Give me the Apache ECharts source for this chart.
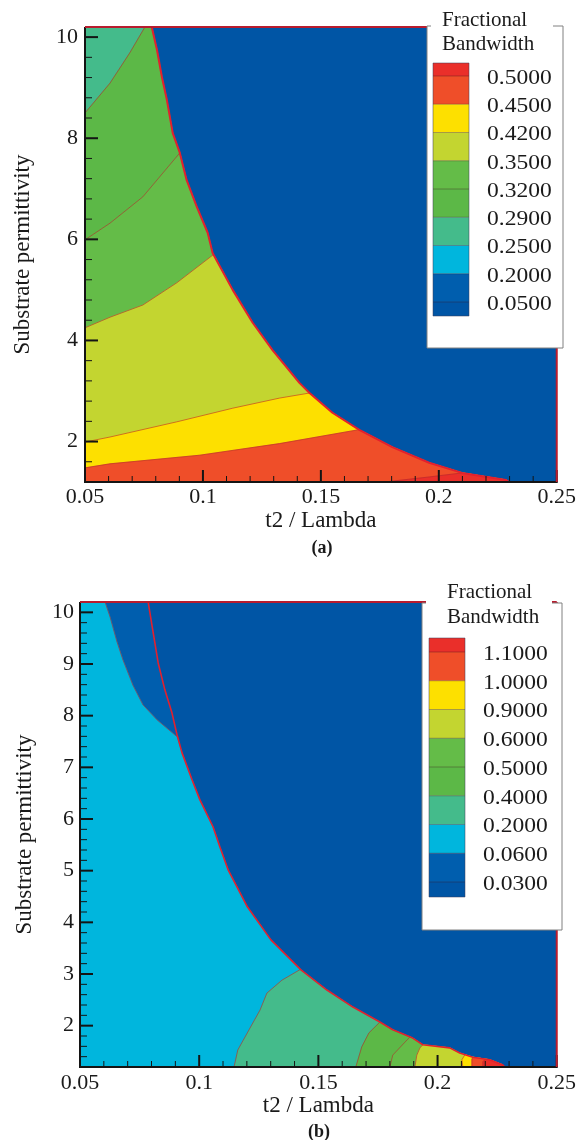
<!DOCTYPE html>
<html>
<head>
<meta charset="utf-8">
<script src="https://cdn.jsdelivr.net/npm/echarts@6/dist/echarts.min.js"></script>
<style>
  html, body { margin: 0; padding: 0; background: #fff; }
  #chart { width: 579px; height: 1140px; }
</style>
</head>
<body>
<div id="chart"></div>
<script>
// Fractional bandwidth vs. t2/Lambda and substrate permittivity, two cases (a) and (b).
const FONT = '"Liberation Serif", "Times New Roman", serif';

// axis domains, tick positions and tick labels
const tRange = [0.05, 0.25];
const epsRange = [1.2, 10.2];
const xInterval = 0.05;
const xMajorTicks = [0.05, 0.1, 0.15, 0.2, 0.25];
const xMinorTicks = [0.06, 0.07, 0.08, 0.09, 0.11, 0.12, 0.13, 0.14, 0.16, 0.17, 0.18, 0.19,
  0.21, 0.22, 0.23, 0.24];
const yLabelsA = [2, 4, 6, 8, 10];
const yMinorTicksA = [1.6, 2.4, 2.8, 3.2, 3.6, 4.4, 4.8, 5.2, 5.6, 6.4, 6.8, 7.2, 7.6, 8.4, 8.8, 9.2, 9.6];
const yLabelsB = [2, 3, 4, 5, 6, 7, 8, 9, 10];
const yMinorTicksB = [1.4, 1.6, 1.8, 2.2, 2.4, 2.6, 2.8, 3.2, 3.4, 3.6, 3.8, 4.2, 4.4, 4.6, 4.8,
  5.2, 5.4, 5.6, 5.8, 6.2, 6.4, 6.6, 6.8, 7.2, 7.4, 7.6, 7.8, 8.2, 8.4, 8.6, 8.8, 9.2, 9.4, 9.6, 9.8];

// level colours
const cBlue = '#0055a5';
const cBlue2 = '#005eae';
const cCyan = '#00b6dd';
const cTeal = '#44bb8b';
const cGreen1 = '#5cb847';
const cGreen2 = '#64bc48';
const cYellowGreen = '#c3d530';
const cYellow = '#fde000';
const cOrange = '#ef4e29';
const cRed = '#ea2f2a';
const cLine = 'rgba(180,40,45,0.6)';
const cEdge = '#e2202e';
const cFrame = '#b81c2e';
const cInk = '#141414';

// ---- case (a) ----
// edge of the banded region (beyond it: lowest level)
const edgeA = [[0.0783,10.2],[0.0805,9.75],[0.0826,9.21],[0.0847,8.76],[0.0872,8.10],[0.0902,7.71],
  [0.0931,7.17],[0.0974,6.64],[0.1020,6.13],[0.1041,5.73],[0.1126,5.00],[0.1211,4.35],[0.1295,3.81],
  [0.1409,3.16],[0.1452,2.96],[0.1549,2.57],[0.1663,2.23],[0.1803,1.89],[0.1959,1.58],[0.2099,1.38],
  [0.2285,1.24],[0.2297,1.2]];
// contour lines (left to right)
const lineA029 = [[0.05,8.50],[0.0606,9.09],[0.0690,9.69],[0.0754,10.2]];
const lineA032 = [[0.05,5.99],[0.0606,6.32],[0.0745,6.84],[0.0902,7.71]];
const lineA035 = [[0.05,4.25],[0.0606,4.46],[0.0745,4.70],[0.0889,5.14],[0.1045,5.70]];
const lineA042 = [[0.05,1.99],[0.0606,2.09],[0.0889,2.39],[0.1126,2.66],[0.1325,2.86],[0.1452,2.96]];
const lineA045 = [[0.05,1.48],[0.0606,1.56],[0.0986,1.73],[0.1325,1.96],[0.1655,2.23]];
const lineA050 = [[0.177,1.2],[0.196,1.30],[0.2099,1.38]];
const legendLabelsA = ['0.5000','0.4500','0.4200','0.3500','0.3200','0.2900','0.2500','0.2000','0.0500'];
const legendColorsA = [cRed, cOrange, cYellow, cYellowGreen, cGreen2, cGreen1, cTeal, cCyan, cBlue2, cBlue];

// ---- case (b) ----
const edgeB = [[0.0786,10.2],[0.0803,9.72],[0.0828,9.02],[0.0856,8.50],[0.0886,8.05],[0.0907,7.63],
  [0.0928,7.28],[0.0970,6.76],[0.1003,6.37],[0.1058,5.85],[0.1087,5.46],[0.1122,5.01],[0.1202,4.30],
  [0.1301,3.66],[0.1427,3.08],[0.1536,2.69],[0.1645,2.36],[0.1758,2.07],[0.1812,1.92],[0.1896,1.76],
  [0.1938,1.63],[0.2051,1.57],[0.2093,1.47],[0.2148,1.39],[0.2219,1.34],[0.2274,1.24],[0.2282,1.2]];
const lineB006 = [[0.0605,10.2],[0.0626,9.91],[0.0655,9.43],[0.0680,9.08],[0.0722,8.59],[0.0764,8.21],
  [0.0823,7.92],[0.0905,7.60]];
const lineB020 = [[0.1146,1.2],[0.1162,1.53],[0.1209,1.92],[0.1255,2.30],[0.1284,2.63],[0.1347,2.88],[0.1425,3.09]];
const lineB040 = [[0.1657,1.2],[0.1682,1.59],[0.1712,1.86],[0.1758,2.07]];
const lineB050 = [[0.1800,1.2],[0.1812,1.43],[0.1863,1.68],[0.1884,1.78]];
const lineB060 = [[0.1905,1.2],[0.1913,1.43],[0.1926,1.57],[0.1938,1.63]];
const lineB090 = [[0.2106,1.2],[0.2102,1.34],[0.2115,1.44]];
const lineB100 = [[0.2144,1.2],[0.2144,1.35],[0.2148,1.39]];
const lineB110 = [[0.2190,1.2],[0.2190,1.30],[0.2200,1.35]];
const legendLabelsB = ['1.1000','1.0000','0.9000','0.6000','0.5000','0.4000','0.2000','0.0600','0.0300'];
const legendColorsB = [cRed, cOrange, cYellow, cYellowGreen, cGreen2, cGreen1, cTeal, cCyan, cBlue2, cBlue];

// region of level >= L: bounded by the contour line, the banded-region edge and the bottom
function fillPolygon(line, edge) {
  const endY = line[line.length - 1][1];
  return [[line[0][0], epsRange[0]], ...line, ...edge.filter(p => p[1] <= endY)];
}

function regionSeries(xi, yi, regions, edge) {
  const polys = regions.map(r => ({ pts: fillPolygon(r.line, edge), color: r.color }));
  return {
    type: 'custom', xAxisIndex: xi, yAxisIndex: yi, silent: true, animation: false, z: 1,
    data: polys.map(p => p.pts[0]),
    renderItem(params, api) {
      const p = polys[params.dataIndex];
      return {
        type: 'polygon',
        shape: { points: p.pts.map(q => api.coord(q)) },
        style: { fill: p.color, stroke: p.color, lineWidth: 0.5 }
      };
    }
  };
}

function lineSeries(xi, yi, data, color, width) {
  return {
    type: 'line', xAxisIndex: xi, yAxisIndex: yi, data, symbol: 'none', silent: true,
    animation: false, z: 3, lineStyle: { color, width }
  };
}

// inward tick marks on the left and bottom edges, plus the frame lines
function frameSeries(xi, yi, yMajor, yMinor) {
  const items = [];
  xMajorTicks.forEach(v => items.push({ kind: 'x', v, len: 12, w: 2 }));
  xMinorTicks.forEach(v => items.push({ kind: 'x', v, len: 6, w: 1 }));
  yMajor.forEach(v => items.push({ kind: 'y', v, len: 13, w: 2 }));
  yMinor.forEach(v => items.push({ kind: 'y', v, len: 7, w: 1 }));
  items.push({ kind: 'left' }, { kind: 'bottom' }, { kind: 'top' }, { kind: 'right' });
  return {
    type: 'custom', xAxisIndex: xi, yAxisIndex: yi, silent: true, animation: false, z: 8,
    data: items.map(() => [tRange[0], epsRange[0]]),
    renderItem(params, api) {
      const it = items[params.dataIndex];
      const bl = api.coord([tRange[0], epsRange[0]]);
      const tr = api.coord([tRange[1], epsRange[1]]);
      let s, color = cInk, w = it.w || 2;
      if (it.kind === 'x') {
        const p = api.coord([it.v, epsRange[0]]);
        s = { x1: p[0], y1: p[1], x2: p[0], y2: p[1] - it.len };
      } else if (it.kind === 'y') {
        const p = api.coord([tRange[0], it.v]);
        s = { x1: p[0], y1: p[1], x2: p[0] + it.len, y2: p[1] };
      } else if (it.kind === 'left') {
        s = { x1: bl[0], y1: bl[1] + 1, x2: bl[0], y2: tr[1] };
      } else if (it.kind === 'bottom') {
        s = { x1: bl[0], y1: bl[1], x2: tr[0] + 1, y2: bl[1] };
      } else if (it.kind === 'top') {
        s = { x1: bl[0], y1: tr[1], x2: tr[0], y2: tr[1] }; color = cFrame;
      } else {
        s = { x1: tr[0], y1: tr[1], x2: tr[0], y2: bl[1] }; color = cFrame;
      }
      return { type: 'line', shape: s, style: { stroke: color, lineWidth: w } };
    }
  };
}

const topLeft = [tRange[0], epsRange[1]];
const regionsA = [
  { line: [topLeft], color: cTeal },
  { line: lineA029, color: cGreen1 },
  { line: lineA032, color: cGreen2 },
  { line: lineA035, color: cYellowGreen },
  { line: lineA042, color: cYellow },
  { line: lineA045, color: cOrange },
  { line: lineA050, color: cRed }
];
const regionsB = [
  { line: [topLeft], color: cBlue2 },
  { line: [topLeft, ...lineB006], color: cCyan },
  { line: lineB020, color: cTeal },
  { line: lineB040, color: cGreen1 },
  { line: lineB050, color: cGreen2 },
  { line: lineB060, color: cYellowGreen },
  { line: lineB090, color: cYellow },
  { line: lineB100, color: cOrange },
  { line: lineB110, color: cRed }
];

const grids = [
  { left: 85, top: 27, width: 473, height: 455, show: true, backgroundColor: cBlue, borderWidth: 0 },
  { left: 80, top: 602, width: 477, height: 465, show: true, backgroundColor: cBlue, borderWidth: 0 }
];

const labelStyle = { fontFamily: FONT, fontSize: 22, color: '#1a1a1a' };
const nameStyle = { fontFamily: FONT, fontSize: 23, color: '#1a1a1a' };

function bottomAxis(gi, gap, margin) {
  return {
    type: 'value', gridIndex: gi, position: 'bottom', min: tRange[0], max: tRange[1], interval: xInterval,
    name: 't2 / Lambda', nameLocation: 'middle', nameGap: gap, nameTextStyle: nameStyle,
    axisLine: { show: false }, axisTick: { show: false },
    axisLabel: Object.assign({ margin, formatter: v => String(+v.toFixed(2)) }, labelStyle),
    splitLine: { show: false }
  };
}
function leftAxis(gi, labels, gap, margin) {
  return {
    type: 'value', gridIndex: gi, position: 'left', min: epsRange[0], max: epsRange[1],
    name: 'Substrate permittivity', nameLocation: 'middle', nameGap: gap, nameRotate: 90, nameTextStyle: nameStyle,
    axisLine: { show: false }, axisTick: { show: false },
    axisLabel: Object.assign({ margin, customValues: labels }, labelStyle),
    splitLine: { show: false }
  };
}

// colour legend boxes
const LEGEND_LAYER = 2;
function legendGraphics(box, title, bar, labels, colors) {
  const els = [];
  const add = el => els.push(Object.assign({ zlevel: LEGEND_LAYER, silent: true }, el));
  add({ type: 'rect', shape: { x: box.x, y: box.y, width: box.w, height: box.h },
    style: { fill: '#fff', stroke: '#808080', lineWidth: 1 }, z: 100 });
  // header text interrupts the top border
  add({ type: 'rect', shape: { x: box.x + 4, y: box.y - 3, width: box.w - 14, height: 6 },
    style: { fill: '#fff' }, z: 101 });
  add({ type: 'text', x: title.x, y: title.y1, z: 102,
    style: { text: 'Fractional', font: '21px ' + FONT, fill: '#1a1a1a', verticalAlign: 'middle' } });
  add({ type: 'text', x: title.x, y: title.y2, z: 102,
    style: { text: 'Bandwidth', font: '21px ' + FONT, fill: '#1a1a1a', verticalAlign: 'middle' } });
  // band edges: short top band, equal middle bands, short bottom band
  const edges = [bar.top, bar.top + bar.first];
  for (let i = 1; i < colors.length - 1; i++) edges.push(bar.top + bar.first + i * bar.step);
  edges.push(bar.bottom);
  colors.forEach((c, i) => {
    add({ type: 'rect', shape: { x: bar.x, y: edges[i], width: bar.w, height: edges[i + 1] - edges[i] },
      style: { fill: c }, z: 102 });
  });
  for (let i = 1; i < edges.length - 1; i++) {
    add({ type: 'line', shape: { x1: bar.x, y1: edges[i], x2: bar.x + bar.w, y2: edges[i] },
      style: { stroke: 'rgba(60,20,30,0.35)', lineWidth: 1 }, z: 103 });
  }
  add({ type: 'rect', shape: { x: bar.x, y: bar.top, width: bar.w, height: bar.bottom - bar.top },
    style: { fill: 'none', stroke: 'rgba(60,60,90,0.5)', lineWidth: 1 }, z: 103 });
  labels.forEach((t, i) => {
    add({ type: 'text', x: bar.labelX, y: edges[i + 1] + 2, z: 102, scaleX: 1.07,
      style: { text: t, font: '22px ' + FONT, fill: '#1a1a1a', verticalAlign: 'middle' } });
  });
  return els;
}

const graphics = [
  ...legendGraphics({ x: 427, y: 26, w: 136, h: 322 }, { x: 442, y1: 20, y2: 44 },
    { x: 433, w: 36, top: 63, first: 13, step: 28.25, bottom: 316, labelX: 487 }, legendLabelsA, legendColorsA),
  ...legendGraphics({ x: 422, y: 603, w: 140, h: 327 }, { x: 447, y1: 592, y2: 617 },
    { x: 429, w: 36, top: 638, first: 14, step: 28.75, bottom: 897, labelX: 483 }, legendLabelsB, legendColorsB),
  { type: 'text', x: 322, y: 548, z: 50,
    style: { text: '(a)', font: 'bold 18px ' + FONT, fill: '#1a1a1a', align: 'center', verticalAlign: 'middle' } },
  { type: 'text', x: 319, y: 1132, z: 50,
    style: { text: '(b)', font: 'bold 18px ' + FONT, fill: '#1a1a1a', align: 'center', verticalAlign: 'middle' } }
];

const series = [
  regionSeries(0, 0, regionsA, edgeA),
  ...[lineA029, lineA032, lineA035, lineA042, lineA045, lineA050].map(l => lineSeries(0, 0, l, cLine, 1)),
  lineSeries(0, 0, edgeA, cEdge, 2),
  frameSeries(0, 0, yLabelsA, yMinorTicksA),
  regionSeries(1, 1, regionsB, edgeB),
  ...[lineB006, lineB020, lineB040, lineB050, lineB060, lineB090, lineB100, lineB110].map(l => lineSeries(1, 1, l, cLine, 1)),
  lineSeries(1, 1, edgeB, cEdge, 1.6),
  frameSeries(1, 1, yLabelsB, yMinorTicksB)
];

const chart = echarts.init(document.getElementById('chart'), null, { renderer: 'canvas' });
chart.setOption({
  animation: false,
  grid: grids,
  xAxis: [bottomAxis(0, 27, 4), bottomAxis(1, 27, 5)],
  yAxis: [leftAxis(0, yLabelsA, 51, 7), leftAxis(1, yLabelsB, 44, 6)],
  graphic: graphics,
  series
});
</script>
</body>
</html>
